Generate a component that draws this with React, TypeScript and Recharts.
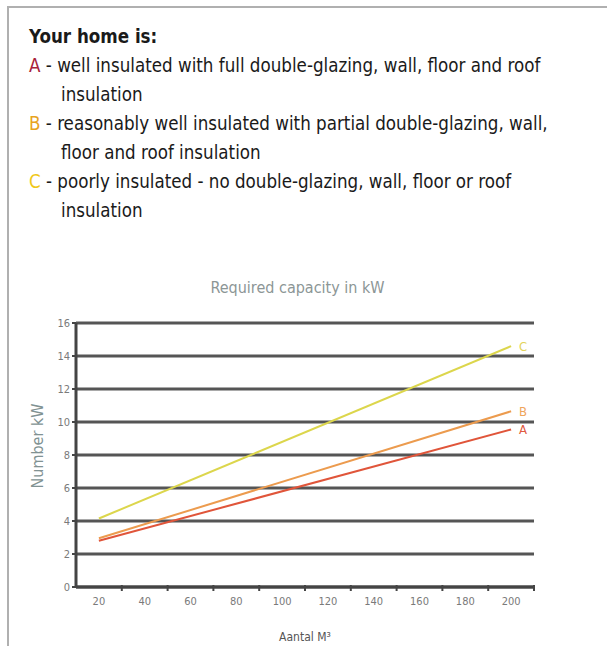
import React from "react";
import { LineChart, Line, XAxis, YAxis, CartesianGrid } from "recharts";

// floor area in m3 (endpoints of each curve)
const areas = [20, 200];
const seriesA = [2.8, 9.55];
const seriesB = [2.95, 10.65];
const seriesC = [4.15, 14.6];

const labelTicks = [20, 40, 60, 80, 100, 120, 140, 160, 180, 200];
const markTicks = [30, 50, 70, 90, 110, 130, 150, 170, 190, 210];
const kwTicks = [0, 2, 4, 6, 8, 10, 12, 14, 16];

const data = areas.map((m, i) => ({ m, A: seriesA[i], B: seriesB[i], C: seriesC[i] }));
const xTicks = [...labelTicks, ...markTicks].sort((a, b) => a - b);

const TEXT_FONT = '"Liberation Sans Narrow", "DejaVu Sans Condensed", "Noto Sans", sans-serif';
const TICK_FONT = '"DejaVu Sans Condensed", "Liberation Sans Narrow", sans-serif';

const XTick = ({ x, y, payload }: any) => {
  const v = payload.value;
  if (labelTicks.includes(v)) {
    return (
      <text x={x} y={y + 18} textAnchor="middle" fontSize={11} fill="#7a7a7a" fontFamily={TICK_FONT}>
        {v}
      </text>
    );
  }
  return <line x1={x} x2={x} y1={y - 2} y2={y + 4} stroke="#444" strokeWidth={2} />;
};

const endLabel = (letter: string, color: string) => (props: any) => {
  const { x, y, index } = props;
  if (index !== areas.length - 1) return null;
  return (
    <text x={x + 8} y={y + 5} fontSize={13} fill={color} fontFamily={TICK_FONT}>
      {letter}
    </text>
  );
};

const lines: [string, string][] = [
  ["A", "well insulated with full double-glazing, wall, floor and roof"],
  ["", "insulation"],
  ["B", "reasonably well insulated with partial double-glazing, wall,"],
  ["", "floor and roof insulation"],
  ["C", "poorly insulated - no double-glazing, wall, floor or roof"],
  ["", "insulation"],
];
const letterColors: Record<string, string> = { A: "#a8213a", B: "#e8a31e", C: "#f0c81a" };

export default function App() {
  return (
    <div style={{ position: "absolute", left: 0, top: 0, width: 607, height: 646, background: "#fff", overflow: "hidden" }}>
      <div style={{ position: "absolute", left: 7, top: 6, width: 600, height: 2, background: "#b0b0b0" }} />
      <div style={{ position: "absolute", left: 7, top: 6, width: 2, height: 640, background: "#b0b0b0" }} />

      <div style={{ position: "absolute", left: 0, top: 0 }}>
        <LineChart width={607} height={646} data={data} margin={{ top: 323, right: 73, bottom: 0, left: 0 }}>
          <CartesianGrid vertical={false} stroke="#555" strokeWidth={3} horizontalValues={kwTicks} />
          <XAxis
            dataKey="m"
            type="number"
            domain={[10, 210]}
            ticks={xTicks}
            interval={0}
            height={59}
            tickSize={0}
            tickMargin={0}
            tickLine={false}
            tick={<XTick />}
            axisLine={{ stroke: "#444", strokeWidth: 3 }}
            label={{ value: "Aantal M³", position: "insideBottom", offset: 5, fontSize: 12, fill: "#555", fontFamily: TICK_FONT }}
          />
          <YAxis
            type="number"
            domain={[0, 16]}
            ticks={kwTicks}
            interval={0}
            width={76}
            tickSize={4}
            tickMargin={2}
            axisLine={{ stroke: "#444", strokeWidth: 3 }}
            tickLine={{ stroke: "#444", strokeWidth: 2 }}
            tick={{ fontSize: 11, fill: "#7a7a7a", fontFamily: TICK_FONT }}
          />
          <Line dataKey="C" stroke="#dcd64c" strokeWidth={2} dot={false} isAnimationActive={false} label={endLabel("C", "#e3d35a")} />
          <Line dataKey="B" stroke="#ec9b4e" strokeWidth={2} dot={false} isAnimationActive={false} label={endLabel("B", "#efa55c")} />
          <Line dataKey="A" stroke="#e0553a" strokeWidth={2} dot={false} isAnimationActive={false} label={endLabel("A", "#e05a40")} />
        </LineChart>
      </div>

      <div
        style={{
          position: "absolute",
          left: 37,
          top: 446,
          transform: "translate(-50%, -50%) rotate(-90deg)",
          whiteSpace: "nowrap",
          fontFamily: TEXT_FONT,
          fontSize: 16,
          color: "#819292",
        }}
      >
        Number kW
      </div>

      <div style={{ position: "absolute", left: 0, width: 607, top: 278, textAlign: "center", fontFamily: TEXT_FONT, fontSize: 16, color: "#8c9696" }}>
        <span style={{ position: "relative", left: -6 }}>Required capacity in kW</span>
      </div>

      <div style={{ position: "absolute", left: 29, top: 22, fontFamily: TEXT_FONT, fontSize: 18.6, color: "#1a1a1a", lineHeight: "29px" }}>
        <div style={{ fontWeight: "bold" }}>Your home is:</div>
        {lines.map(([letter, text], i) => (
          <div key={i} style={{ whiteSpace: "nowrap" }}>
            {letter ? (
              <>
                <span style={{ color: letterColors[letter] }}>{letter}</span>
                <span> - {text}</span>
              </>
            ) : (
              <span style={{ paddingLeft: 32 }}>{text}</span>
            )}
          </div>
        ))}
      </div>
    </div>
  );
}
